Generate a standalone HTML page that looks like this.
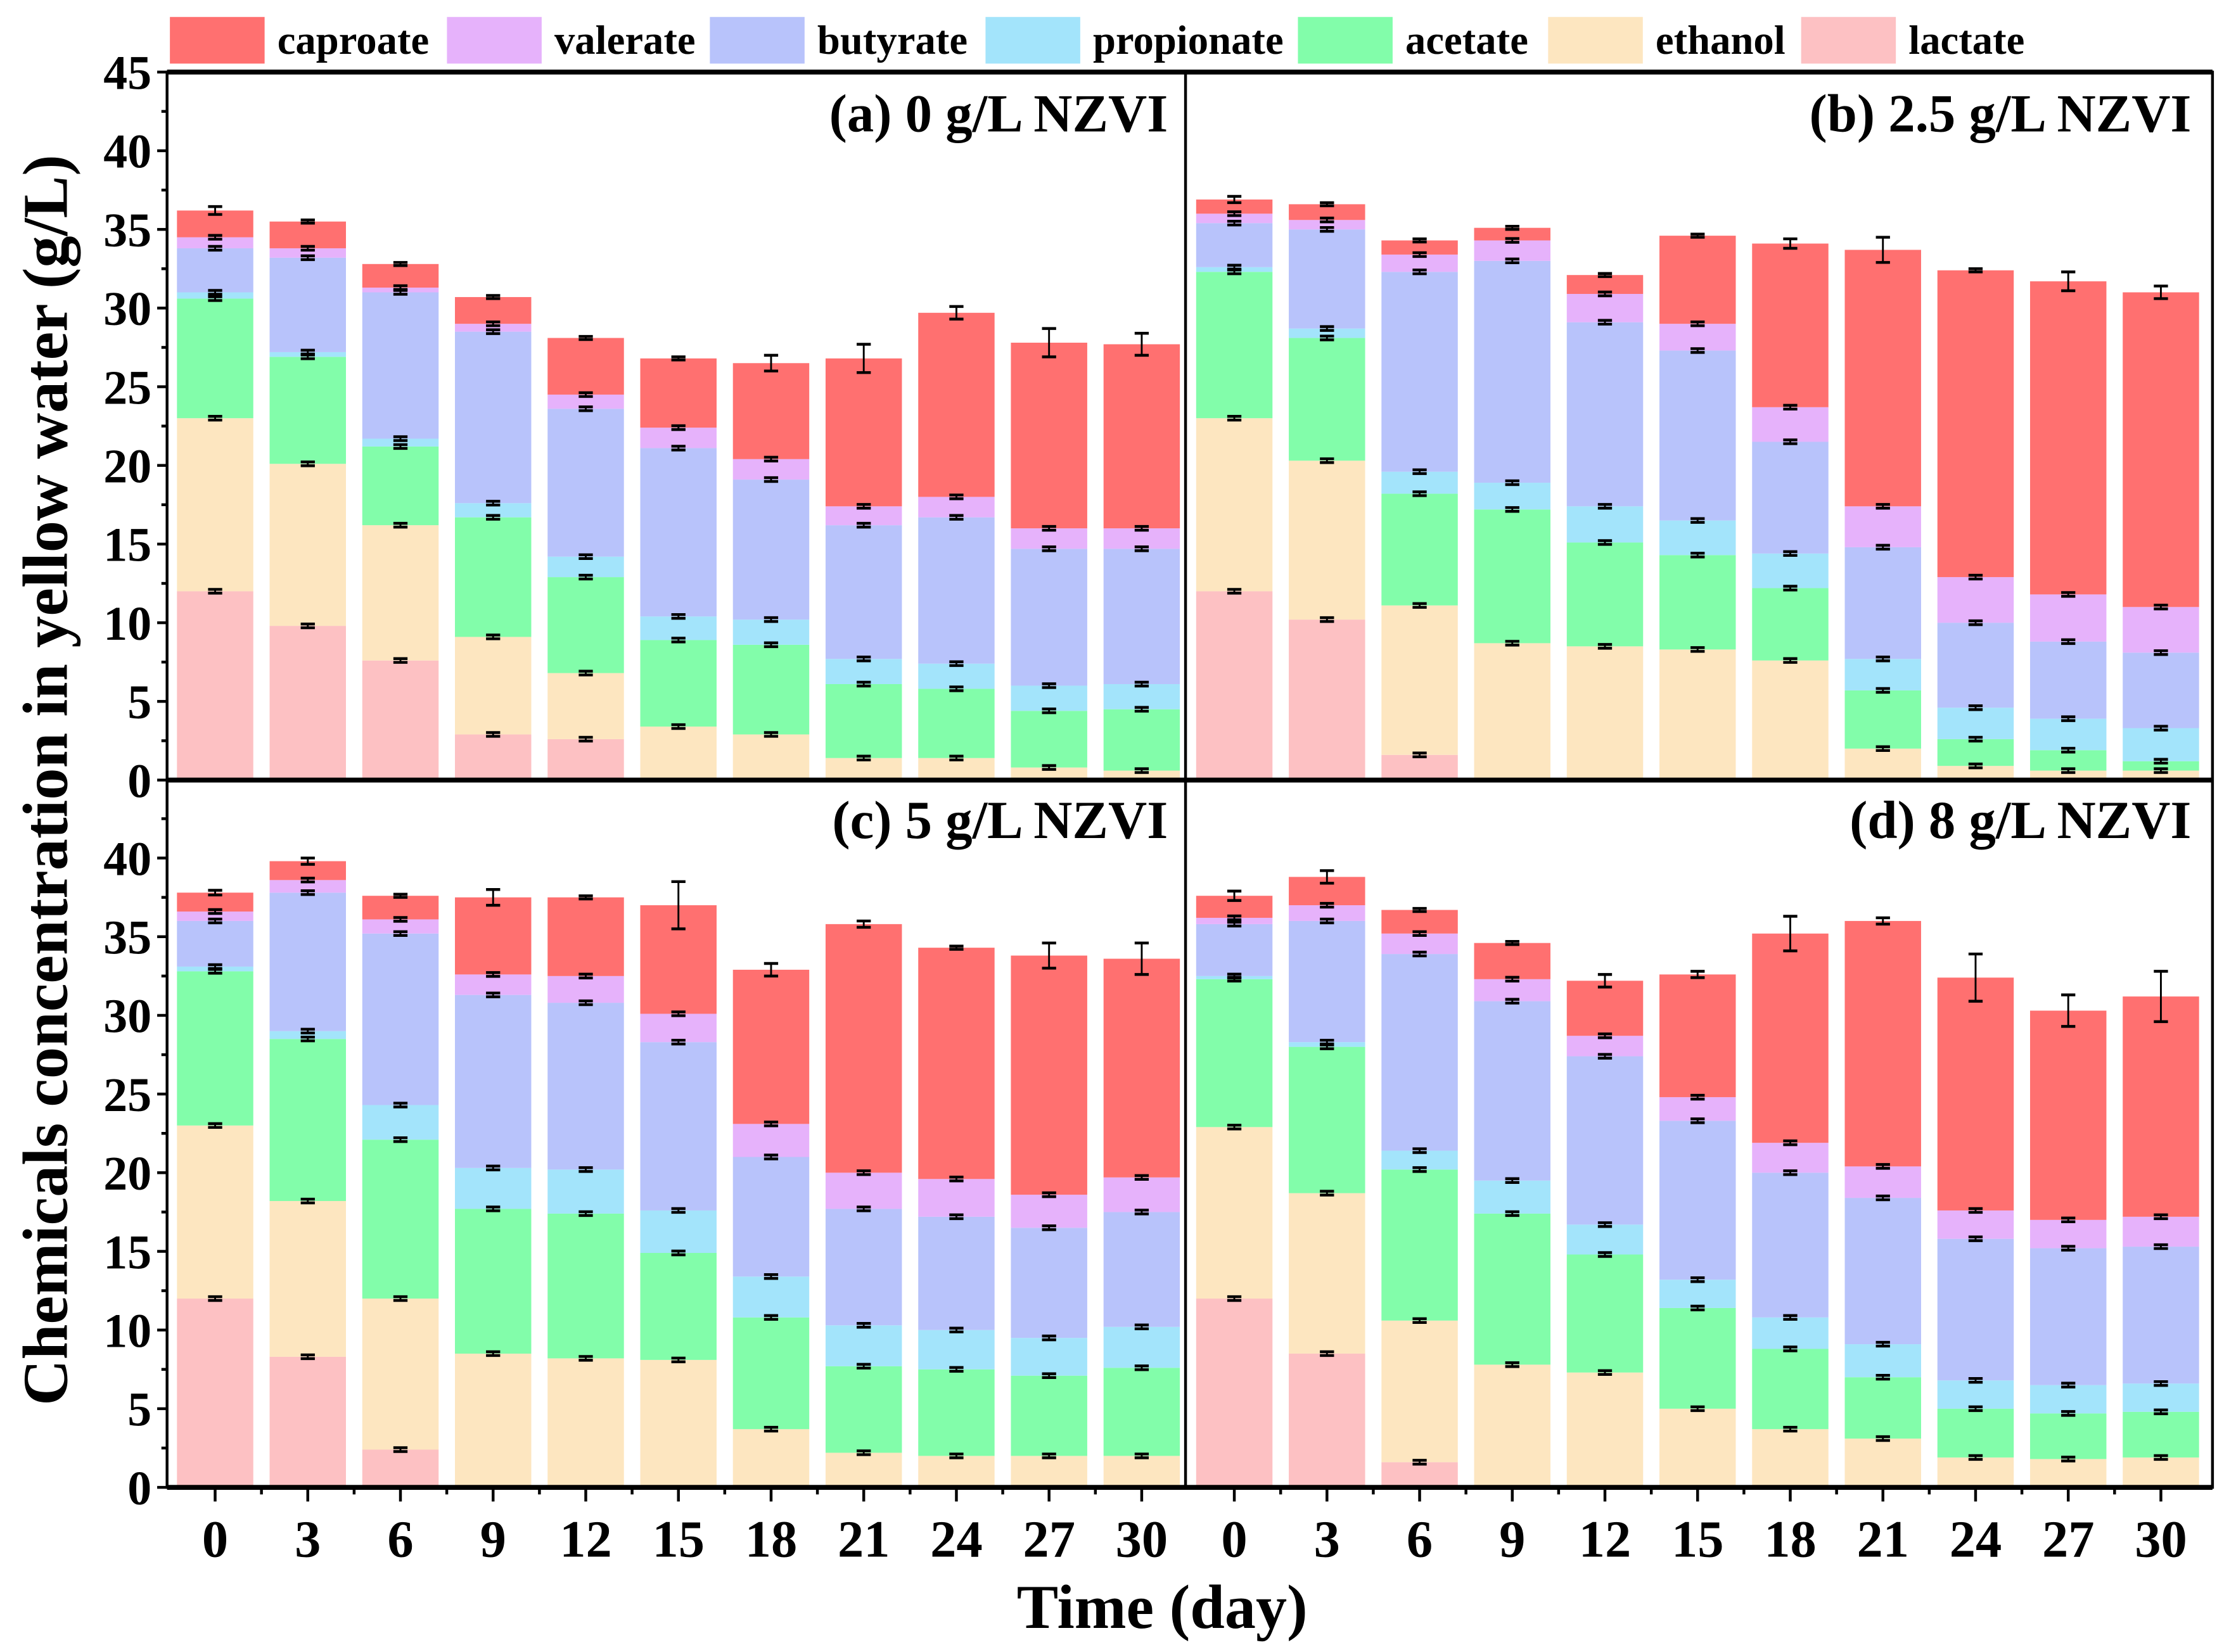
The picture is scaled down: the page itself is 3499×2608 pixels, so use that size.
<!DOCTYPE html>
<html><head><meta charset="utf-8"><style>
html,body{margin:0;padding:0;background:#fff;}
svg{display:block;}
text{font-family:"Liberation Serif",serif;font-weight:bold;fill:#000;}
</style></head><body>
<svg id="chart" width="3499" height="2608" viewBox="0 0 1568 1169" xmlns="http://www.w3.org/2000/svg"></svg>
<script>
const days = [0,3,6,9,12,15,18,21,24,27,30];
const species = ["lactate","ethanol","acetate","propionate","butyrate","valerate","caproate"];
const legendOrder = ["caproate","valerate","butyrate","propionate","acetate","ethanol","lactate"];
const colors = {caproate:"#ff7070",valerate:"#e6b2fb",butyrate:"#b8c3fb",propionate:"#a3e4fb",acetate:"#82fdaa",ethanol:"#fde6c0",lactate:"#fdc1c3"};
const yTicksTop = [0,5,10,15,20,25,30,35,40,45];
const yTicksBottom = [0,5,10,15,20,25,30,35,40];
const panelTitles = ["(a)  0 g/L NZVI","(b) 2.5 g/L NZVI","(c)  5 g/L NZVI","(d)  8 g/L NZVI"];
// cumulative stack tops per bar: lactate, +ethanol, +acetate, +propionate, +butyrate, +valerate, +caproate
const cumA = [
[12,23,30.6,31,33.8,34.5,36.2],[9.8,20.1,26.9,27.2,33.2,33.8,35.5],[7.6,16.2,21.2,21.7,31.0,31.3,32.8],
[2.9,9.1,16.7,17.6,28.5,29.0,30.7],[2.6,6.8,12.9,14.2,23.6,24.5,28.1],[0,3.4,8.9,10.4,21.1,22.4,26.8],
[0,2.9,8.6,10.2,19.1,20.4,26.5],[0,1.4,6.1,7.7,16.2,17.4,26.8],[0,1.4,5.8,7.4,16.7,18.0,29.7],
[0,0.8,4.4,6.0,14.7,16.0,27.8],[0,0.6,4.5,6.1,14.7,16.0,27.7]];
const cumB = [
[12,23,32.3,32.6,35.4,36.0,36.9],[10.2,20.3,28.1,28.7,35.0,35.6,36.6],[1.6,11.1,18.2,19.6,32.3,33.4,34.3],
[0,8.7,17.2,18.9,33.0,34.3,35.1],[0,8.5,15.1,17.4,29.1,30.9,32.1],[0,8.3,14.3,16.5,27.3,29.0,34.6],
[0,7.6,12.2,14.4,21.5,23.7,34.1],[0,2.0,5.7,7.7,14.8,17.4,33.7],[0,0.9,2.6,4.6,10.0,12.9,32.4],
[0,0.6,1.9,3.9,8.8,11.8,31.7],[0,0.6,1.2,3.3,8.1,11.0,31.0]];
const cumC = [
[12,23,32.8,33.1,36.0,36.6,37.8],[8.3,18.2,28.5,29.0,37.8,38.6,39.8],[2.4,12.0,22.1,24.3,35.2,36.1,37.6],
[0,8.5,17.7,20.3,31.3,32.6,37.5],[0,8.2,17.4,20.2,30.8,32.5,37.5],[0,8.1,14.9,17.6,28.3,30.1,37.0],
[0,3.7,10.8,13.4,21.0,23.1,32.9],[0,2.2,7.7,10.3,17.7,20.0,35.8],[0,2.0,7.5,10.0,17.2,19.6,34.3],
[0,2.0,7.1,9.5,16.5,18.6,33.8],[0,2.0,7.6,10.2,17.5,19.7,33.6]];
const cumD = [
[12,22.9,32.3,32.5,35.8,36.2,37.6],[8.5,18.7,28.0,28.3,36.0,37.0,38.8],[1.6,10.6,20.2,21.4,33.9,35.2,36.7],
[0,7.8,17.4,19.5,30.9,32.3,34.6],[0,7.3,14.8,16.7,27.4,28.7,32.2],[0,5.0,11.4,13.2,23.3,24.8,32.6],
[0,3.7,8.8,10.8,20.0,21.9,35.2],[0,3.1,7.0,9.1,18.4,20.4,36.0],[0,1.9,5.0,6.8,15.8,17.6,32.4],
[0,1.8,4.7,6.5,15.2,17.0,30.3],[0,1.9,4.8,6.6,15.3,17.2,31.2]];
const errTopA = [0.25,0.1,0.1,0.1,0.1,0.1,0.5,0.9,0.4,0.9,0.7];
const errTopB = [0.2,0.1,0.1,0.1,0.1,0.1,0.3,0.8,0.1,0.6,0.4];
const errTopC = [0.15,0.2,0.1,0.5,0.1,1.5,0.4,0.2,0.1,0.8,1.0];
const errTopD = [0.3,0.4,0.1,0.1,0.4,0.2,1.1,0.2,1.5,1.0,1.6];

const NS="http://www.w3.org/2000/svg";
const svg=document.getElementById('chart');
function mk(tag,attrs,parent){const e=document.createElementNS(NS,tag);for(const k in attrs)e.setAttribute(k,attrs[k]);(parent||svg).appendChild(e);return e;}

const L=118, MID=838.5, R=1565, TOP=51, HMID=552, BOT=1052.5;
const panels=[
 {cum:cumA,err:errTopA,x0:152,y0:HMID,name:"panel-a",ticks:yTicksTop},
 {cum:cumB,err:errTopB,x0:873,y0:HMID,name:"panel-b",ticks:null},
 {cum:cumC,err:errTopC,x0:152,y0:BOT,name:"panel-c",ticks:yTicksBottom},
 {cum:cumD,err:errTopD,x0:873,y0:BOT,name:"panel-d",ticks:null}];
const PXU=(HMID-TOP)/45, STEP=65.55, BW=54;
function yScale(p,v){return p.y0-v*PXU;}
function xScale(p,d){return p.x0+(d/3)*STEP;}

panels.forEach((p,pi)=>{
 const g=mk('g',{});
 
 
 p.cum.forEach((stack,bi)=>{
  const cx=xScale(p,days[bi]);
  let prev=0;
  stack.forEach((top,si)=>{
   if(top-prev>0.001){
    const r=mk('rect',{x:cx-BW/2,y:yScale(p,top),width:BW,height:yScale(p,prev)-yScale(p,top),fill:colors[species[si]]},g);
    
    
   }
   prev=Math.max(prev,top);
  });
  stack.forEach((top,si)=>{
   if(si>0 && top<=stack[si-1]+0.001) return;
   if(top<=0) return;
   const e=(si===6)?p.err[bi]:0.12;
   const y1=yScale(p,top+e), y2=yScale(p,top-e);
   const eb=mk('g',{stroke:'#000','stroke-width':1.3},g);
   
   
   mk('line',{x1:cx,x2:cx,y1:y1,y2:y2},eb);
   mk('line',{x1:cx-5,x2:cx+5,y1:y1,y2:y1,'stroke-width':2},eb);
   mk('line',{x1:cx-5,x2:cx+5,y1:y2,y2:y2,'stroke-width':2},eb);
  });
 });
 const tx=(pi%2===0)?826:1550, ty=(pi<2)?93:593;
 const t=mk('text',{x:tx,y:ty,'font-size':38,'text-anchor':'end'});
 t.textContent=panelTitles[pi];
 
 
 t.setAttribute('xml:space','preserve');
});

const fr=mk('g',{stroke:'#000',fill:'none'});


mk('rect',{x:L,y:TOP,width:R-L,height:BOT-TOP,'stroke-width':2},fr);
mk('line',{x1:L,x2:R,y1:TOP,y2:TOP,'stroke-width':3.5},fr);
mk('line',{x1:L,x2:R,y1:HMID,y2:HMID,'stroke-width':3.5},fr);
mk('line',{x1:MID,x2:MID,y1:TOP,y2:BOT,'stroke-width':2},fr);
mk('line',{x1:L,x2:R,y1:BOT,y2:BOT,'stroke-width':3.5},fr);

[panels[0],panels[2]].forEach(p=>{
 const ax=mk('g',{});
 
 
 p.ticks.forEach(v=>{
  const y=yScale(p,v);
  mk('line',{x1:L-7,x2:L,y1:y,y2:y,stroke:'#000','stroke-width':2},ax);
  const t=mk('text',{x:L-11,y:y+12,'font-size':34,'text-anchor':'end'},ax);
  t.textContent=v;
  
  
  if(v<45){const ym=yScale(p,v+2.5);mk('line',{x1:L-4,x2:L,y1:ym,y2:ym,stroke:'#000','stroke-width':2},ax);}
 });
});

[panels[2],panels[3]].forEach(p=>{
 const ax=mk('g',{});
 
 
 days.forEach(d=>{
  const x=xScale(p,d);
  mk('line',{x1:x,x2:x,y1:BOT,y2:BOT+10,stroke:'#000','stroke-width':2},ax);
  const xm=x+STEP/2;
  if(d<30) mk('line',{x1:xm,x2:xm,y1:BOT,y2:BOT+5,stroke:'#000','stroke-width':2},ax);
  const t=mk('text',{x:x,y:BOT+49,'font-size':37,'text-anchor':'middle'},ax);
  t.textContent=d;
  
  
 });
});

const xt=mk('text',{x:822,y:1152,'font-size':44,'text-anchor':'middle'});
xt.textContent="Time (day)";


const yt=mk('text',{x:0,y:0,'font-size':45,'text-anchor':'middle',transform:'translate(47,552) rotate(-90)'});
yt.textContent="Chemicals concentration in yellow water (g/L)";



const legendX=[120,316,502,697,918,1095,1274];
const lg=mk('g',{});


legendOrder.forEach((s,i)=>{
 const e=mk('g',{},lg);
 
 
 mk('rect',{x:legendX[i],y:12,width:67,height:33,fill:colors[s]},e);
 const t=mk('text',{x:legendX[i]+76,y:38,'font-size':29},e);
 t.textContent=s;
});
</script>
</body></html>
